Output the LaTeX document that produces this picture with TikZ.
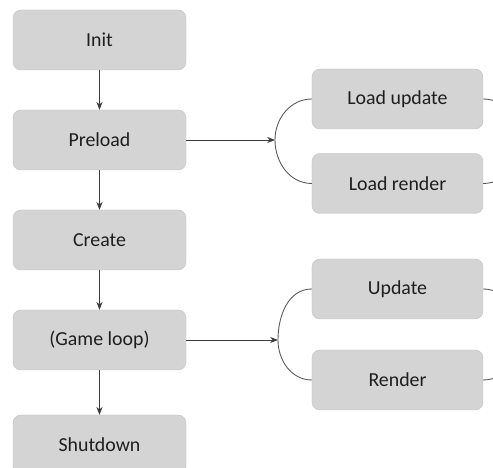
\documentclass[tikz,border=0pt]{standalone}
\usepackage{fontspec}
\setmainfont{Carlito}
\usetikzlibrary{arrows.meta}
\definecolor{boxgray}{RGB}{212,212,212}
\definecolor{txtgray}{RGB}{30,30,30}
\definecolor{linegray}{RGB}{60,60,60}
\begin{document}
\begin{tikzpicture}[
    stage/.style={fill=boxgray, draw=boxgray!90!black, line width=0.2pt, rounded corners=4.5pt,
        minimum width=3.46cm, minimum height=1.2cm, text=txtgray, font=\fontsize{11.3}{13}\selectfont},
    sub/.style={stage, minimum width=3.42cm},
    flow/.style={draw=linegray, line width=0.5pt, -{Stealth[length=4.5pt,width=3.5pt]}},
    brace/.style={draw=linegray!85, line width=0.5pt}]
    \clip (0,0) rectangle (9.86,9.36);
    % main column
    \node[stage] (init) at (1.99,8.56) {Init};
    \node[stage] (preload) at (1.99,6.56) {Preload};
    \node[stage] (create) at (1.99,4.56) {Create};
    \node[stage] (loop) at (1.99,2.56) {(Game loop)};
    \node[stage] (shutdown) at (1.99,0.46) {Shutdown};
    \draw[flow] (init) -- (preload);
    \draw[flow] (preload) -- (create);
    \draw[flow] (create) -- (loop);
    \draw[flow] (loop) -- (shutdown);
    % preload callbacks
    \node[sub] (ldupdate) at (7.95,7.38) {Load update};
    \node[sub] (ldrender) at (7.95,5.69) {Load render};
    \coordinate (ldin) at (5.50,6.56);
    \coordinate (ldout) at (10.40,6.56);
    \draw[brace] (ldupdate.west) to[out=180,in=90] (ldin) to[out=-90,in=180] (ldrender.west);
    \draw[brace] (ldupdate.east) to[out=0,in=90] (ldout) to[out=-90,in=0] (ldrender.east);
    \draw[flow] (preload.east) -- (ldin);
    % game loop callbacks
    \node[sub] (update) at (7.95,3.58) {Update};
    \node[sub] (render) at (7.95,1.76) {Render};
    \coordinate (gmin) at (5.56,2.56);
    \coordinate (gmout) at (10.40,2.67);
    \draw[brace] (update.west) to[out=180,in=90] (gmin) to[out=-90,in=180] (render.west);
    \draw[brace] (update.east) to[out=0,in=90] (gmout) to[out=-90,in=0] (render.east);
    \draw[flow] (loop.east) -- (gmin);
\end{tikzpicture}
\end{document}
